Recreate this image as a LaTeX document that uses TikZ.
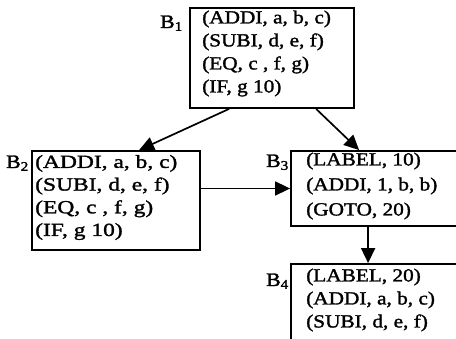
\documentclass[tikz,border=0pt]{standalone}
\usepackage{fontspec}
\newfontfamily\boxfont[FakeStretch=1.15,FakeBold=1.6]{Liberation Serif}
\newfontfamily\wideboxfont[FakeStretch=1.27,FakeBold=1.6]{Liberation Serif}
\usetikzlibrary{arrows.meta,calc}
\tikzset{
  blk/.style={draw, line width=1.8pt, rectangle, inner sep=0pt},
  code/.style={anchor=west, align=left, inner sep=0pt,
    font=\boxfont\fontsize{18.5}{23}\selectfont},
  blabel/.style={anchor=base east, inner sep=0pt,
    font=\boxfont\fontsize{19}{20}\selectfont},
  flow/.style={line width=1.7pt, -{Triangle[length=15pt,width=14pt]}}
}
\begin{document}
\begin{tikzpicture}[x=1pt,y=-1pt]
\path[use as bounding box] (0,0) rectangle (456,339);
\clip (0,0) rectangle (456,339);
% boxes
\node[blk, minimum width=164pt, minimum height=100pt] (b1) at (272,58) {};
\node[blk, minimum width=168pt, minimum height=99pt] (b2) at (116,200.5) {};
\node[blk, minimum width=167pt, minimum height=75pt] (b3) at (374.5,188.5) {};
\node[blk, minimum width=167pt, minimum height=90pt] (b4) at (374.5,309) {};
% code
\node[code] (t1) at (202,53.5) {(ADDI, a, b, c)\\(SUBI, d, e, f)\\(EQ, c , f, g)\\(IF, g 10)};
\node[code, font=\wideboxfont\fontsize{18.5}{22.7}\selectfont] (t2) at (35,197.5) {(ADDI, a, b, c)\\(SUBI, d, e, f)\\(EQ, c , f, g)\\(IF, g 10)};
\node[code, font=\boxfont\fontsize{18.5}{25}\selectfont] (t3) at (306,186) {(LABEL, 10)\\(ADDI, 1, b, b)\\(GOTO, 20)};
\node[code] (t4) at (306,300) {(LABEL, 20)\\(ADDI, a, b, c)\\(SUBI, d, e, f)};
% labels
\node[blabel] (l1) at (183,28) {B\textsubscript{1}};
\node[blabel] (l2) at (29,168) {B\textsubscript{2}};
\node[blabel] (l3) at (289,167) {B\textsubscript{3}};
\node[blabel] (l4) at (289,286) {B\textsubscript{4}};
% connectors
\draw[flow] ([xshift=40pt]b1.south west) -- ([xshift=108pt]b2.north west);
\draw[flow] ([xshift=127pt]b1.south west) -- ([xshift=69pt]b3.north west);
\draw[flow] (b2.east |- b3.west) -- (b3.west);
\draw[flow] ([xshift=78pt]b3.south west) -- ([xshift=78pt]b4.north west);
\end{tikzpicture}
\end{document}
